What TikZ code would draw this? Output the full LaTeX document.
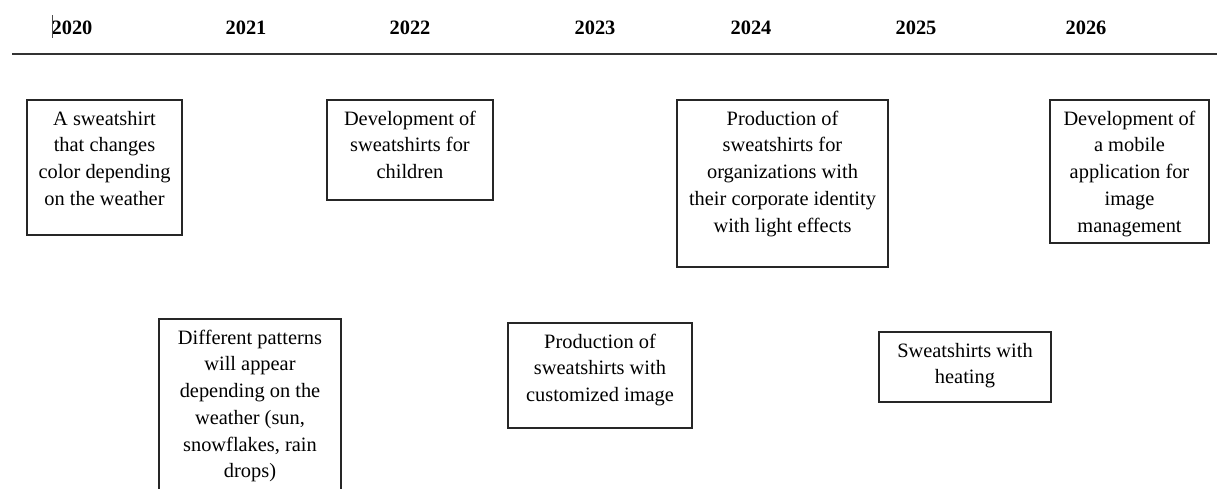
\documentclass[tikz,border=0pt]{standalone}
\usepackage{fontspec}
\setmainfont{Liberation Serif}
\begin{document}
\begin{tikzpicture}[x=0.5pt,y=-0.5pt,
  yearlbl/.style={font=\fontsize{10.2}{12}\selectfont\bfseries, inner sep=0pt, anchor=base},
  evbox/.style 2 args={draw=black!85, line width=0.55pt, minimum width=#1*0.5pt, minimum height=#2*0.5pt, inner sep=0pt},
  evtxt/.style={font=\fontsize{10.2}{13.35}\selectfont, align=center, inner sep=0pt, anchor=north}
]
\useasboundingbox (0,0) rectangle (1217,488);
\clip (0,0) rectangle (1217,488);
% years
\node[yearlbl] (y20) at (72,34) {2020};
\node[yearlbl] (y21) at (246,34) {2021};
\node[yearlbl] (y22) at (410,34) {2022};
\node[yearlbl] (y23) at (595,34) {2023};
\node[yearlbl] (y24) at (751,34) {2024};
\node[yearlbl] (y25) at (916,34) {2025};
\node[yearlbl] (y26) at (1086,34) {2026};
% cursor mark
\coordinate (cur1) at (52,15);
\coordinate (cur2) at (52,38);
\draw[black!70, line width=0.5pt] (cur1) -- (cur2);
% timeline
\coordinate (tl1) at (12,54);
\coordinate (tl2) at (1217,54);
\draw[black!80, line width=0.6pt] (tl1) -- (tl2);
% boxes
\node[evbox={155}{135}] (b1) at (104.5,167.5) {};
\node[evtxt] (t1) at ([yshift=-5.5pt]b1.north) {A sweatshirt\\that changes\\color depending\\on the weather};
\node[evbox={166}{100}] (b2) at (410,150) {};
\node[evtxt] (t2) at ([yshift=-5.5pt]b2.north) {Development of\\sweatshirts for\\children};
\node[evbox={182}{201}] (b3) at (250,419.5) {};
\node[evtxt] (t3) at ([yshift=-5.5pt]b3.north) {Different patterns\\will appear\\depending on the\\weather (sun,\\snowflakes, rain\\drops)};
\node[evbox={184}{105}] (b4) at (600,375.5) {};
\node[evtxt] (t4) at ([yshift=-5.5pt]b4.north) {Production of\\sweatshirts with\\customized image};
\node[evbox={211}{167}] (b5) at (782.5,183.5) {};
\node[evtxt] (t5) at ([yshift=-5.5pt]b5.north) {Production of\\sweatshirts for\\organizations with\\their corporate identity\\with light effects};
\node[evbox={172}{70}] (b6) at (965,367) {};
\node[evtxt] (t6) at ([yshift=-5.5pt]b6.north) {Sweatshirts with\\heating};
\node[evbox={159}{143}] (b7) at (1129.5,171.5) {};
\node[evtxt] (t7) at ([yshift=-5.5pt]b7.north) {Development of\\a mobile\\application for\\image\\management};
\end{tikzpicture}
\end{document}
